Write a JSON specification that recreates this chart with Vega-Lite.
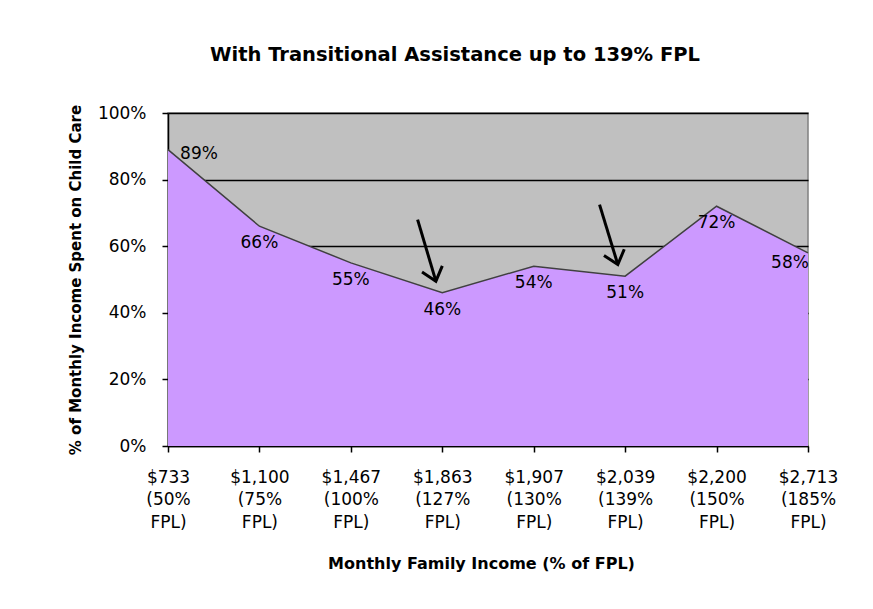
{
  "$schema": "https://vega.github.io/schema/vega-lite/v6.json",
  "width": 640,
  "height": 333,
  "autosize": {"type": "none"},
  "padding": {"left": 168, "top": 113, "right": 65, "bottom": 163},
  "background": "white",
  "config": {
    "font": "DejaVu Sans",
    "view": {"fill": "#c0c0c0", "stroke": "#808080", "strokeWidth": 1.5}
  },
  "title": {
    "text": "With Transitional Assistance up to 139% FPL",
    "anchor": "start",
    "frame": "group",
    "dx": 42,
    "offset": 39,
    "fontSize": 19.5,
    "fontWeight": "bold",
    "font": "DejaVu Sans",
    "color": "black"
  },
  "datasets": {
    "main": [
      {"i": 0, "income": "$733", "fpl": "50% FPL", "pct": 0.89},
      {"i": 1, "income": "$1,100", "fpl": "75% FPL", "pct": 0.66},
      {"i": 2, "income": "$1,467", "fpl": "100% FPL", "pct": 0.55},
      {"i": 3, "income": "$1,863", "fpl": "127% FPL", "pct": 0.46},
      {"i": 4, "income": "$1,907", "fpl": "130% FPL", "pct": 0.54},
      {"i": 5, "income": "$2,039", "fpl": "139% FPL", "pct": 0.51},
      {"i": 6, "income": "$2,200", "fpl": "150% FPL", "pct": 0.72},
      {"i": 7, "income": "$2,713", "fpl": "185% FPL", "pct": 0.58}
    ],
    "arrows": [
      {"x0": 2.73, "y0": 0.68, "x1": 2.93, "y1": 0.495},
      {"x0": 4.72, "y0": 0.725, "x1": 4.92, "y1": 0.545}
    ]
  },
  "layer": [
    {
      "data": {"name": "main"},
      "mark": {"type": "area", "color": "#cc99ff", "opacity": 1, "line": {"color": "#404040", "strokeWidth": 1.5}},
      "encoding": {
        "x": {
          "field": "i", "type": "quantitative",
          "scale": {"domain": [0, 7], "nice": false, "zero": false},
          "axis": {
            "values": [0, 1, 2, 3, 4, 5, 6, 7],
            "labelExpr": "[['$733','(50%','FPL)'],['$1,100','(75%','FPL)'],['$1,467','(100%','FPL)'],['$1,863','(127%','FPL)'],['$1,907','(130%','FPL)'],['$2,039','(139%','FPL)'],['$2,200','(150%','FPL)'],['$2,713','(185%','FPL)']][datum.value]",
            "grid": false,
            "title": "Monthly Family Income (% of FPL)",
            "titleFont": "DejaVu Sans",
            "titleFontSize": 16,
            "titleFontWeight": "bold",
            "titleColor": "black",
            "titlePadding": 25,
            "titleX": 313,
            "labelFont": "DejaVu Sans",
            "labelFontSize": 17,
            "labelColor": "black",
            "labelLineHeight": 22.5,
            "labelPadding": 17,
            "labelFlush": false,
            "labelOverlap": false,
            "domainColor": "black",
            "domainWidth": 1.5,
            "tickColor": "black",
            "tickSize": 6,
            "tickWidth": 1.5
          }
        },
        "y": {
          "field": "pct", "type": "quantitative",
          "scale": {"domain": [0, 1], "nice": false},
          "axis": {
            "values": [0, 0.2, 0.4, 0.6, 0.8, 1],
            "format": ".0%",
            "gridColor": "black",
            "gridWidth": 1.5,
            "title": "% of Monthly Income Spent on Child Care",
            "titleFont": "DejaVu Sans",
            "titleFontSize": 15,
            "titleFontWeight": "bold",
            "titleColor": "black",
            "titlePadding": 14,
            "labelFont": "DejaVu Sans",
            "labelFontSize": 17,
            "labelColor": "black",
            "labelPadding": 16,
            "domainColor": "black",
            "domainWidth": 1.5,
            "tickColor": "black",
            "tickSize": 6,
            "tickWidth": 1.5
          }
        }
      }
    },
    {
      "data": {"name": "main"},
      "transform": [{"filter": "datum.i > 0 && datum.i < 7"}],
      "mark": {"type": "text", "fontSize": 17, "font": "DejaVu Sans", "color": "black", "dy": 17},
      "encoding": {
        "x": {"field": "i", "type": "quantitative"},
        "y": {"field": "pct", "type": "quantitative"},
        "text": {"field": "pct", "type": "quantitative", "format": ".0%"}
      }
    },
    {
      "data": {"name": "main"},
      "transform": [{"filter": "datum.i == 0"}],
      "mark": {"type": "text", "fontSize": 17, "font": "DejaVu Sans", "color": "black", "dx": 31, "dy": 4},
      "encoding": {
        "x": {"field": "i", "type": "quantitative"},
        "y": {"field": "pct", "type": "quantitative"},
        "text": {"field": "pct", "type": "quantitative", "format": ".0%"}
      }
    },
    {
      "data": {"name": "main"},
      "transform": [{"filter": "datum.i == 7"}],
      "mark": {"type": "text", "fontSize": 17, "font": "DejaVu Sans", "color": "black", "dx": -18, "dy": 10},
      "encoding": {
        "x": {"field": "i", "type": "quantitative"},
        "y": {"field": "pct", "type": "quantitative"},
        "text": {"field": "pct", "type": "quantitative", "format": ".0%"}
      }
    },
    {
      "data": {"name": "arrows"},
      "mark": {"type": "rule", "color": "black", "strokeWidth": 3},
      "encoding": {
        "x": {"field": "x0", "type": "quantitative"},
        "y": {"field": "y0", "type": "quantitative"},
        "x2": {"field": "x1"},
        "y2": {"field": "y1"}
      }
    },
    {
      "data": {"name": "arrows"},
      "mark": {"type": "point", "shape": "M -1 -1.2 L 0 0 L 1 -1.2", "filled": false, "stroke": "black", "strokeWidth": 3, "size": 450, "angle": 343, "opacity": 1},
      "encoding": {
        "x": {"field": "x1", "type": "quantitative"},
        "y": {"field": "y1", "type": "quantitative"}
      }
    }
  ]
}
